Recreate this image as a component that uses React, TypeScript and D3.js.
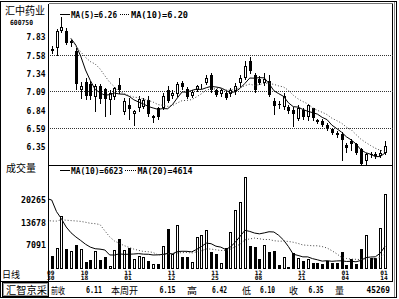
import React from "react";
import * as d3 from "d3";

// ---------- data ----------
const opens = [7.66, 7.67, 7.90, 7.90, 7.73, 7.63, 7.10, 7.21, 7.18, 7.01, 7.16, 7.12, 6.97, 7.01, 7.17, 6.81, 6.91, 6.78, 6.86, 6.88, 6.97, 6.73, 6.87, 6.87, 7.10, 7.02, 7.05, 7.20, 7.12, 7.03, 7.11, 7.15, 7.20, 7.30, 7.10, 7.05, 7.07, 7.05, 7.09, 7.20, 7.27, 7.49, 7.31, 7.25, 7.20, 7.22, 6.96, 6.92, 6.88, 6.88, 6.84, 6.72, 6.84, 6.74, 6.86, 6.70, 6.69, 6.64, 6.58, 6.53, 6.52, 6.37, 6.42, 6.38, 6.31, 6.15, 6.25, 6.25, 6.22, 6.26];
const highs = [7.70, 7.93, 8.08, 7.94, 7.78, 7.67, 7.21, 7.26, 7.22, 7.18, 7.18, 7.13, 7.10, 7.15, 7.27, 7.00, 7.00, 6.84, 7.02, 7.00, 7.03, 6.77, 6.88, 7.06, 7.16, 7.10, 7.21, 7.22, 7.14, 7.10, 7.17, 7.18, 7.31, 7.33, 7.12, 7.12, 7.09, 7.13, 7.20, 7.31, 7.49, 7.55, 7.34, 7.29, 7.33, 7.30, 7.00, 6.96, 7.07, 6.90, 6.88, 6.90, 6.86, 6.92, 6.87, 6.72, 6.71, 6.66, 6.60, 6.56, 6.54, 6.39, 6.45, 6.40, 6.33, 6.26, 6.28, 6.27, 6.30, 6.42];
const lows = [7.60, 7.58, 7.88, 7.72, 7.70, 7.12, 7.00, 6.98, 6.98, 6.83, 6.93, 6.76, 6.78, 6.99, 7.07, 6.78, 6.72, 6.63, 6.83, 6.86, 6.76, 6.68, 6.72, 6.85, 6.94, 7.00, 7.03, 7.12, 7.00, 7.01, 7.09, 7.13, 7.19, 7.08, 7.02, 7.03, 6.98, 7.03, 7.05, 7.15, 7.25, 7.34, 7.08, 7.18, 7.17, 7.02, 6.78, 6.86, 6.85, 6.80, 6.62, 6.70, 6.72, 6.70, 6.70, 6.66, 6.62, 6.57, 6.51, 6.47, 6.17, 6.28, 6.30, 6.24, 6.10, 6.10, 6.20, 6.19, 6.20, 6.24];
const closes = [7.63, 7.90, 7.95, 7.74, 7.76, 7.19, 7.16, 7.02, 7.03, 7.16, 6.98, 6.98, 7.07, 7.13, 7.10, 6.96, 6.85, 6.83, 6.98, 6.97, 6.79, 6.75, 6.74, 7.03, 6.96, 7.07, 7.19, 7.15, 7.01, 7.08, 7.16, 7.16, 7.27, 7.10, 7.04, 7.10, 7.00, 7.11, 7.16, 7.27, 7.43, 7.36, 7.10, 7.20, 7.25, 7.04, 6.89, 6.90, 7.02, 6.82, 6.78, 6.86, 6.74, 6.90, 6.73, 6.68, 6.64, 6.59, 6.53, 6.50, 6.44, 6.33, 6.38, 6.26, 6.11, 6.24, 6.23, 6.22, 6.26, 6.35];
const volumes = [3710, 5960, 15480, 5660, 5170, 6920, 5660, 2040, 2540, 5170, 2540, 3500, 900, 5460, 8580, 5460, 6040, 2740, 3710, 3500, 2250, 1370, 1370, 6630, 11500, 4290, 12760, 3500, 3500, 2040, 9340, 9840, 11300, 4960, 4200, 1580, 5960, 10800, 17140, 19390, 26860, 6720, 6420, 2740, 6920, 4960, 5170, 1080, 3330, 580, 4500, 3040, 2250, 2740, 1750, 1580, 1280, 2340, 1580, 1580, 4960, 1080, 2740, 1280, 5660, 9840, 3040, 3040, 11800, 21810];
// volumes of the 20 sessions before the first visible bar (feed the volume MAs)
const priorVolumes = [7000, 6500, 7200, 8800, 7500, 9000, 8200, 7000, 8600, 7400, 7800, 40000, 36000, 30000, 22000, 19000, 16000, 13000, 11000, 9890];

const priceTicks = [7.83, 7.58, 7.34, 7.09, 6.84, 6.59, 6.35];
const priceGrid = [7.58, 7.09, 6.59];
const volumeTicks = [20265, 13678, 7091];
const dateTickIndex = [0, 7, 16, 25, 34, 43, 52, 61, 69];
const dateTickMonth = ["09", "10", "11", "11", "11", "12", "12", "01", "01"];
const dateTickDay = ["30", "18", "01", "12", "25", "08", "21", "04", "14"];

const stockName = "汇中药业";
const stockCode = "600750";
const priceLegend = ["MA(5)=6.26", "MA(10)=6.20"];
const volumeLegend = ["MA(10)=6623", "MA(20)=4614"];
const statusLabels = ["前收", "本周开", "高", "低", "收", "量"];
const statusValues = ["6.11", "6.15", "6.42", "6.10", "6.35", "45269"];

// ---------- layout ----------
const W = 399;
const H = 299;
const L = 48.5;
const R = 392.5;
const PRICE_TOP = 3.5;
const SEP = 165.5;
const VOL_BASE = 269;
const STATUS_TOP = 281.5;

const MONO = "'DejaVu Sans Mono', 'Liberation Mono', monospace";
const CJK = "'Noto Sans CJK SC', 'Noto Sans', sans-serif";

const xScale = d3.scaleLinear().domain([0, closes.length - 1]).range([51.7, 385]);
const yPrice = d3.scaleLinear().domain([6.35, 7.83]).range([146.3, 36]);
const yVol = d3.scaleLinear().domain([0, 20265]).range([268.7, 199.3]);

function priceMA(n: number) {
  const pts: [number, number][] = [];
  for (let i = 4; i < closes.length; i++) {
    const s = closes.slice(Math.max(0, i - n + 1), i + 1);
    pts.push([i, d3.mean(s) as number]);
  }
  return pts;
}
function volMA(n: number) {
  const all = priorVolumes.concat(volumes);
  const P = priorVolumes.length;
  const pts: [number, number][] = [];
  for (let i = -1; i < volumes.length; i++) {
    const s = all.slice(P + i - n + 1, P + i + 1);
    pts.push([i, d3.mean(s) as number]);
  }
  return pts;
}

const priceLine = d3
  .line<[number, number]>()
  .x((d) => xScale(d[0]))
  .y((d) => yPrice(d[1]));
const volLine = d3
  .line<[number, number]>()
  .x((d) => xScale(d[0]))
  .y((d) => yVol(d[1]));

function T(props: any) {
  const { x, y, children, size = 9, font = MONO, anchor = "start", len, weight = "bold", fill = "#000" } = props;
  return (
    <text
      x={x}
      y={y}
      fontSize={size}
      fontFamily={font}
      fontWeight={weight}
      textAnchor={anchor}
      fill={fill}
      textLength={len}
      lengthAdjust={len ? "spacingAndGlyphs" : undefined}
    >
      {children}
    </text>
  );
}

export default function App() {
  const ma5 = priceMA(5);
  const ma10 = priceMA(10);
  const vma10 = volMA(10);
  const vma20 = volMA(20);

  const statusLabelX = [51, 111, 187, 242, 289, 335];
  const statusLabelLen = [14, 27, 10, 9, 9, 9];
  const statusValueX = [86, 159.5, 212, 260, 308.5, 366.5];
  const statusValueLen = [16, 16, 15, 15, 15, 23.5];

  return (
    <svg
      width={W}
      height={H}
      style={{ position: "absolute", left: 0, top: 0, display: "block", background: "#fff" }}
      shapeRendering="crispEdges"
    >
      <defs>
        <clipPath id="volClip">
          <rect x={L + 0.5} y={SEP + 0.5} width={R - L - 1} height={VOL_BASE - SEP} />
        </clipPath>
        <clipPath id="priceClip">
          <rect x={L + 0.5} y={PRICE_TOP + 0.5} width={R - L - 1} height={SEP - PRICE_TOP - 1} />
        </clipPath>
      </defs>
      <rect x={0} y={0} width={W} height={H} fill="#fff" />

      {/* outer frame */}
      <line x1={0.5} y1={1} x2={0.5} y2={298} stroke="#000" />
      <line x1={0} y1={1.5} x2={397} y2={1.5} stroke="#000" />
      <line x1={L} y1={PRICE_TOP} x2={R} y2={PRICE_TOP} stroke="#777" />
      <line x1={0} y1={297.5} x2={397} y2={297.5} stroke="#000" />
      <line x1={R} y1={PRICE_TOP} x2={R} y2={STATUS_TOP} stroke="#000" />
      <line x1={394.5} y1={2} x2={394.5} y2={297} stroke="#888" />
      <line x1={396.5} y1={1} x2={396.5} y2={298} stroke="#000" />

      {/* left axis, separators */}
      <line x1={L} y1={PRICE_TOP} x2={L} y2={STATUS_TOP} stroke="#000" />
      <line x1={L} y1={SEP} x2={R} y2={SEP} stroke="#000" />
      <line x1={0} y1={STATUS_TOP} x2={R} y2={STATUS_TOP} stroke="#000" />

      {/* title */}
      <T x={5} y={15} size={11} font={CJK} len={40} weight="normal">{stockName}</T>
      <T x={10} y={25} size={7} len={23}>{stockCode}</T>

      {/* price grid */}
      {priceGrid.map((v) => {
        const y = Math.round(yPrice(v)) + 0.5;
        return <line key={v} x1={L + 1} x2={R} y1={y} y2={y} stroke="#333" strokeDasharray="1 1" />;
      })}
      {priceTicks.map((v) => (
        <T key={v} x={45.5} y={Math.round(yPrice(v)) + 3.5} size={9} anchor="end" len={19}>
          {v.toFixed(2)}
        </T>
      ))}

      {/* price legend */}
      <line x1={60} x2={70} y1={14.5} y2={14.5} stroke="#000" />
      <T x={71} y={17.5} size={8} len={46}>{priceLegend[0]}</T>
      <line x1={120} x2={130} y1={14.5} y2={14.5} stroke="#000" strokeDasharray="1 1" />
      <T x={131} y={17.5} size={8} len={57}>{priceLegend[1]}</T>

      {/* candles */}
      <g clipPath="url(#priceClip)">
        {closes.map((c, i) => {
          const o = opens[i];
          const cx = Math.round(xScale(i));
          const up = c > o;
          const yTop = Math.round(yPrice(Math.max(o, c)));
          const yBot = Math.round(yPrice(Math.min(o, c)));
          const yh = Math.round(yPrice(highs[i]));
          const yl = Math.round(yPrice(lows[i]));
          const bh = Math.max(1, yBot - yTop);
          return (
            <g key={i}>
              <line x1={cx + 0.5} x2={cx + 0.5} y1={yh} y2={yl + 1} stroke="#000" />
              {up ? (
                <rect x={cx - 0.5} y={yTop + 0.5} width={2} height={Math.max(0, bh - 1)} fill="#fff" stroke="#000" />
              ) : (
                <rect x={cx - 1} y={yTop} width={3} height={bh} fill="#000" />
              )}
            </g>
          );
        })}
        <path d={priceLine(ma5) || ""} fill="none" stroke="#000" shapeRendering="auto" />
        <path d={priceLine(ma10) || ""} fill="none" stroke="#444" strokeDasharray="1 2" shapeRendering="auto" />
      </g>

      {/* volume panel */}
      <T x={6} y={172} size={10} font={CJK} len={30} weight="normal">成交量</T>
      <line x1={60} x2={70} y1={170.5} y2={170.5} stroke="#000" />
      <T x={71} y={173.5} size={8} len={52}>{volumeLegend[0]}</T>
      <line x1={125} x2={136} y1={170.5} y2={170.5} stroke="#000" strokeDasharray="1 1" />
      <T x={137.5} y={173.5} size={8} len={55}>{volumeLegend[1]}</T>
      {volumeTicks.map((v) => (
        <T key={v} x={46} y={Math.round(yVol(v)) + 3.5} size={8.5} anchor="end" len={String(v).length * 5}>
          {v}
        </T>
      ))}
      <g clipPath="url(#volClip)">
        {volumes.map((v, i) => {
          const cx = Math.round(xScale(i));
          const up = closes[i] > opens[i];
          const yt = Math.round(yVol(v));
          const h = Math.max(1, VOL_BASE - yt);
          return up ? (
            <rect key={i} x={cx - 0.5} y={yt + 0.5} width={2} height={h - 1} fill="#fff" stroke="#000" />
          ) : (
            <rect key={i} x={cx - 1} y={yt} width={3} height={h} fill="#000" />
          );
        })}
        <path d={volLine(vma10) || ""} fill="none" stroke="#000" shapeRendering="auto" />
        <path d={volLine(vma20) || ""} fill="none" stroke="#444" strokeDasharray="1 2" shapeRendering="auto" />
      </g>

      {/* date axis */}
      <T x={2} y={278} size={9} font={CJK} len={18} weight="normal">日线</T>
      {dateTickIndex.map((idx, k) => {
        const x = xScale(idx) - 1;
        return (
          <g key={k}>
            <T x={x} y={274.5} size={6} anchor="middle" len={7.5}>{dateTickMonth[k]}</T>
            <T x={x} y={280} size={6} anchor="middle" len={7.5}>{dateTickDay[k]}</T>
          </g>
        );
      })}

      {/* status bar */}
      <rect x={2.5} y={282.5} width={46} height={14} fill="#fff" stroke="#000" />
      <rect x={3.5} y={283.5} width={44} height={12} fill="none" stroke="#999" />
      <T x={6} y={293.5} size={10} font={CJK} len={41} weight="normal">汇智京采</T>
      {statusLabels.map((s, k) => (
        <T key={s} x={statusLabelX[k]} y={294} size={9.5} font={CJK} len={statusLabelLen[k]} weight="normal">
          {s}
        </T>
      ))}
      {statusValues.map((s, k) => (
        <T key={k} x={statusValueX[k]} y={293} size={8.5} len={statusValueLen[k]}>
          {s}
        </T>
      ))}
    </svg>
  );
}
